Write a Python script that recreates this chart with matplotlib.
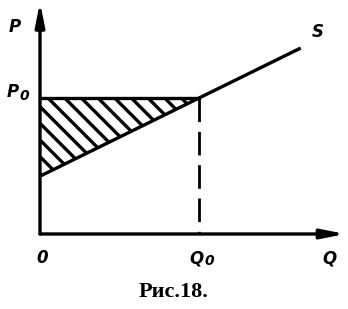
import matplotlib
matplotlib.use("Agg")
import matplotlib.pyplot as plt

# economic units
q0 = 5.0
p0 = 4.0
supply_q = [0.0, 8.2]
supply_p = [1.7, 5.47]
q_axis_end = 9.6
p_axis_end = 6.82

# triangle of producer surplus: (0, p0), (q0, p0), (0, intercept)
surplus_q = [0.0, q0, 0.0]
surplus_p = [p0, p0, supply_p[0]]

plt.rcParams["hatch.linewidth"] = 2.4

fig = plt.figure(figsize=(3.48, 3.09), dpi=100)
ax = fig.add_axes([0, 0, 1, 1])
ax.set_xlim(-1.258, 9.686)
ax.set_ylim(-2.206, 6.882)
ax.axis("off")

lw = 2.4
arrow = dict(arrowstyle="-|>,head_length=1.4,head_width=0.28", lw=lw, color="black",
             shrinkA=0, shrinkB=0)
ax.annotate("", xy=(q_axis_end, 0), xytext=(0, 0), arrowprops=arrow)
ax.annotate("", xy=(0, p_axis_end), xytext=(0, 0), arrowprops=arrow)

ax.fill(surplus_q, surplus_p, facecolor="white", edgecolor="black", hatch="\\\\", lw=0)
ax.plot(supply_q, supply_p, color="black", lw=lw, solid_capstyle="butt")
ax.plot([0, q0], [p0, p0], color="black", lw=lw)
ax.plot([q0, q0], [p0, 0], color="black", lw=2.0, dashes=(8.5, 3.5))

lab = dict(fontsize=12, fontweight="bold", style="italic", family="DejaVu Sans",
           color="black")
sub = dict(fontsize=10, fontweight="bold", style="italic", family="DejaVu Sans",
           color="black")
ax.text(-0.78, 6.08, "P", ha="center", va="center", **lab)
ax.text(-0.87, 4.17, "P", ha="center", va="center", **lab)
ax.text(-0.5, 4.07, "0", ha="center", va="center", **sub)
ax.text(8.72, 5.93, "S", ha="center", va="center", **lab)
ax.text(0.07, -0.72, "0", ha="center", va="center", **lab)
ax.text(4.92, -0.72, "Q", ha="center", va="center", **lab)
ax.text(5.32, -0.78, "0", ha="center", va="center", **sub)
ax.text(9.1, -0.72, "Q", ha="center", va="center", **lab)

fig.text(0.5, 1 - 292 / 309, "Рис.18.", ha="center", va="center", fontsize=16,
         fontweight="bold", family="Liberation Serif")

fig.savefig("out.png", dpi=100, facecolor="white")
